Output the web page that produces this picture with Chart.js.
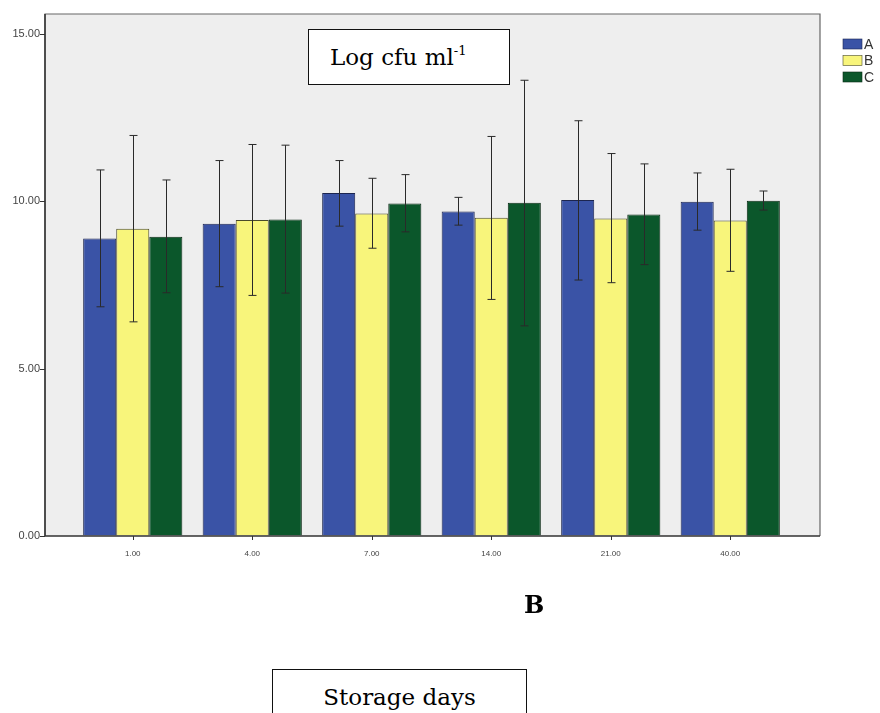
<!DOCTYPE html>
<html>
<head>
<meta charset="utf-8">
<script src="https://cdn.jsdelivr.net/npm/chart.js@4.4.0/dist/chart.umd.min.js"></script>
<style>
  html, body { margin: 0; padding: 0; background: #fff; }
  #wrap { position: relative; width: 880px; height: 713px; overflow: hidden; }
  .note { position: absolute; font-family: 'DejaVu Serif', serif; color: #000; }
  #ytitle { left: 308px; top: 29px; width: 202px; height: 56px; box-sizing: border-box;
            border: 1.5px solid #111; background: #fff; font-size: 23px; line-height: 54px;
            padding-left: 21px; white-space: nowrap; }
  #ytitle sup { font-size: 13px; vertical-align: 10px; line-height: 0; }
  #panel { left: 524px; top: 590px; font-size: 24px; font-weight: bold; }
  #xtitle { left: 272px; top: 669px; width: 255px; height: 60px; box-sizing: border-box;
            border: 1.5px solid #111; border-bottom: none; background: #fff; font-size: 23px;
            text-align: center; padding-top: 14px; white-space: nowrap; }
</style>
</head>
<body>
<div id="wrap">
  <canvas id="chart" width="880" height="713"></canvas>
  <div class="note" id="ytitle">Log cfu ml<sup>-1</sup></div>
  <div class="note" id="panel">B</div>
  <div class="note" id="xtitle">Storage days</div>
</div>
<script>
// storage days on the x axis
var days = ['1.00', '4.00', '7.00', '14.00', '21.00', '40.00'];

// bar heights (mean log cfu/ml)
var meanA = [8.89, 9.33, 10.25, 9.70, 10.04, 9.99];
var meanB = [9.18, 9.44, 9.64, 9.51, 9.49, 9.43];
var meanC = [8.94, 9.46, 9.94, 9.96, 9.61, 10.02];

// error bar ends
var lowA  = [6.85, 7.45, 9.26, 9.29, 7.65, 9.14];
var highA = [10.94, 11.22, 11.22, 10.12, 12.41, 10.85];
var lowB  = [6.40, 7.19, 8.60, 7.07, 7.57, 7.91];
var highB = [11.97, 11.70, 10.69, 11.94, 11.43, 10.96];
var lowC  = [7.27, 7.26, 9.09, 6.28, 8.11, 9.74];
var highC = [10.64, 11.68, 10.80, 13.62, 11.12, 10.31];

var yTicks = [0, 5, 10, 15];

// the grey plot box sticks out past the category range
var frameOut = { left: 28, right: 30, top: 1 };

var framePlugin = {
    id: 'frame',
    beforeDraw: function (chart) {
        var ctx = chart.ctx, a = chart.chartArea;
        ctx.save();
        ctx.fillStyle = '#fff';
        ctx.fillRect(0, 0, chart.width, chart.height);
        ctx.fillStyle = '#eeeeee';
        ctx.fillRect(a.left - frameOut.left, a.top - frameOut.top,
            a.right - a.left + frameOut.left + frameOut.right, a.bottom - a.top + frameOut.top);
        ctx.restore();
    },
    afterDatasetsDraw: function (chart) {
        var ctx = chart.ctx, a = chart.chartArea;
        var l = a.left - frameOut.left, r = a.right + frameOut.right, t = a.top - frameOut.top;
        var y = chart.scales.y, x = chart.scales.x;
        ctx.save();

        // error bars
        ctx.strokeStyle = '#2a2a2a';
        ctx.lineWidth = 1;
        chart.data.datasets.forEach(function (ds, i) {
            var meta = chart.getDatasetMeta(i);
            meta.data.forEach(function (bar, j) {
                var px = Math.round(bar.x) + 0.5;
                var y1 = y.getPixelForValue(ds.errLow[j]);
                var y2 = y.getPixelForValue(ds.errHigh[j]);
                ctx.beginPath();
                ctx.moveTo(px, y1); ctx.lineTo(px, y2);
                ctx.moveTo(px - 4, y1); ctx.lineTo(px + 4, y1);
                ctx.moveTo(px - 4, y2); ctx.lineTo(px + 4, y2);
                ctx.stroke();
            });
        });

        // frame
        ctx.strokeStyle = '#666';
        ctx.lineWidth = 1.2;
        ctx.beginPath();
        ctx.moveTo(l, a.bottom); ctx.lineTo(l, t); ctx.lineTo(r, t); ctx.lineTo(r, a.bottom);
        ctx.stroke();
        ctx.strokeStyle = '#333';
        ctx.lineWidth = 1.5;
        ctx.beginPath();
        ctx.moveTo(l, a.bottom); ctx.lineTo(r, a.bottom);
        ctx.moveTo(l, a.bottom); ctx.lineTo(l, t);
        ctx.stroke();

        // tick marks
        ctx.lineWidth = 1;
        ctx.beginPath();
        yTicks.forEach(function (v) {
            var py = Math.round(y.getPixelForValue(v)) + 0.5;
            ctx.moveTo(l - 5, py); ctx.lineTo(l, py);
        });
        days.forEach(function (d, j) {
            var px = Math.round(x.getPixelForValue(j)) + 0.5;
            ctx.moveTo(px, a.bottom); ctx.lineTo(px, a.bottom + 4);
        });
        ctx.stroke();

        // legend
        ctx.font = '14px "Liberation Sans", Arial, sans-serif';
        ctx.textBaseline = 'middle';
        chart.data.datasets.forEach(function (ds, i) {
            var cy = 44 + i * 16.5;
            ctx.fillStyle = ds.backgroundColor;
            ctx.fillRect(843, cy - 5, 19, 10);
            ctx.strokeStyle = ds.borderColor;
            ctx.lineWidth = 0.6;
            ctx.strokeRect(843, cy - 5, 19, 10);
            ctx.fillStyle = '#333';
            ctx.fillText(ds.label, 864, cy + 1);
        });
        ctx.restore();
    }
};

new Chart(document.getElementById('chart'), {
    type: 'bar',
    data: {
        labels: days,
        datasets: [
            { label: 'A', data: meanA, errLow: lowA, errHigh: highA,
              backgroundColor: '#3a53a6', borderColor: '#1c2550', borderWidth: 1 },
            { label: 'B', data: meanB, errLow: lowB, errHigh: highB,
              backgroundColor: '#f8f57b', borderColor: '#4a4a2a', borderWidth: 1 },
            { label: 'C', data: meanC, errLow: lowC, errHigh: highC,
              backgroundColor: '#0b572b', borderColor: '#0a2a14', borderWidth: 1 }
        ]
    },
    options: {
        responsive: false,
        animation: false,
        events: [],
        layout: { padding: { top: 15, right: 90, bottom: 157, left: 0 } },
        datasets: { bar: { categoryPercentage: 0.83, barPercentage: 1 } },
        plugins: { legend: { display: false }, tooltip: { enabled: false } },
        scales: {
            x: {
                grid: { display: false },
                border: { display: false },
                ticks: { color: '#444', padding: 5, maxRotation: 0,
                         font: { size: 8, family: '"Liberation Sans", Arial, sans-serif' } },
                afterFit: function (s) { s.height = 20; }
            },
            y: {
                min: 0,
                max: 15.57,
                // invisible tick marks push the labels out past the grey box
                grid: { display: true, color: 'transparent', drawOnChartArea: false,
                        drawTicks: true, tickLength: 30 },
                border: { display: false },
                afterBuildTicks: function (s) {
                    s.ticks = yTicks.map(function (v) { return { value: v }; });
                },
                ticks: { color: '#444', padding: 3,
                         font: { size: 11, family: '"Liberation Sans", Arial, sans-serif' },
                         callback: function (v) { return Number(v).toFixed(2); } },
                afterFit: function (s) { s.width = 73; }
            }
        }
    },
    plugins: [framePlugin]
});
</script>
</body>
</html>
